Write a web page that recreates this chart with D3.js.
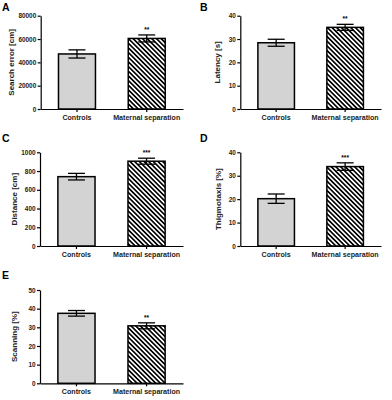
<!DOCTYPE html>
<html>
<head>
<meta charset="utf-8">
<script src="https://cdn.jsdelivr.net/npm/d3@7"></script>
<style>
  body { margin: 0; background: #fff; }
  svg { display: block; font-family: Arial, "Liberation Sans", sans-serif; }
</style>
</head>
<body>
<div id="chart"></div>
<script>
// Groups shown on every panel
const groups = ["Controls", "Maternal separation"];

// Panel values (mean) and error (SEM) per group
const searchError = [47200, 60500];
const searchErrorSem = [3500, 3000];
const latency = [28.4, 35.0];
const latencySem = [1.5, 1.3];
const distance = [740, 905];
const distanceSem = [35, 32];
const thigmotaxis = [20.2, 33.9];
const thigmotaxisSem = [2.0, 1.6];
const scanning = [37.5, 30.8];
const scanningSem = [1.5, 1.6];

// Significance marks (on Maternal separation bar)
const stars = ["**", "**", "***", "***", "**"];

// Axis ticks
const searchErrorTicks = [0, 20000, 40000, 60000, 80000];
const latencyTicks = [0, 10, 20, 30, 40];
const distanceTicks = [0, 200, 400, 600, 800, 1000];
const thigmotaxisTicks = [0, 10, 20, 30, 40];
const scanningTicks = [0, 10, 20, 30, 40, 50];

const width = 392, height = 400;

const svg = d3.select('#chart')
    .append('svg')
    .attr('width', width)
    .attr('height', height);

// Hatch pattern for the maternal separation bars
svg.append('defs').append('pattern')
    .attr('id', 'hatch')
    .attr('patternUnits', 'userSpaceOnUse')
    .attr('width', 3.3)
    .attr('height', 3.3)
    .attr('patternTransform', 'rotate(-45)')
    .call(p => {
        p.append('rect').attr('width', 3.3).attr('height', 3.3).attr('fill', '#fff');
        p.append('rect').attr('width', 1.65).attr('height', 3.3).attr('fill', '#000');
    });

const panels = [
    { letter: 'A', title: 'Search error [cm]', values: searchError, sem: searchErrorSem, ticks: searchErrorTicks,
      left: 40.7, right: 183, top: 15.7, bottom: 109, labelX: 11, lx: 2, ly: 11 },
    { letter: 'B', title: 'Latency [s]', values: latency, sem: latencySem, ticks: latencyTicks,
      left: 240.3, right: 381, top: 15.7, bottom: 109, labelX: 217, lx: 200, ly: 11 },
    { letter: 'C', title: 'Distance [cm]', values: distance, sem: distanceSem, ticks: distanceTicks,
      left: 40, right: 183, top: 152.3, bottom: 246, labelX: 14, lx: 2, ly: 142 },
    { letter: 'D', title: 'Thigmotaxis [%]', values: thigmotaxis, sem: thigmotaxisSem, ticks: thigmotaxisTicks,
      left: 240.3, right: 381, top: 152.3, bottom: 246, labelX: 218, lx: 200, ly: 142 },
    { letter: 'E', title: 'Scanning [%]', values: scanning, sem: scanningSem, ticks: scanningTicks,
      left: 40, right: 183, top: 290, bottom: 383.3, labelX: 14, lx: 2, ly: 279 }
];

panels.forEach((p, i) => {
    const g = svg.append('g');

    const x = d3.scaleBand()
        .domain(groups)
        .range([p.left, p.right])
        .paddingInner(0.47)
        .paddingOuter(0.255);

    const y = d3.scaleLinear()
        .domain([0, d3.max(p.ticks)])
        .range([p.bottom, p.top]);

    // Bars
    g.selectAll('rect.bar')
        .data(groups)
        .join('rect')
        .attr('class', 'bar')
        .attr('x', d => x(d))
        .attr('y', (d, j) => y(p.values[j]))
        .attr('width', x.bandwidth())
        .attr('height', (d, j) => y(0) - y(p.values[j]))
        .attr('fill', (d, j) => j === 0 ? '#d3d3d3' : 'url(#hatch)')
        .attr('stroke', '#000')
        .attr('stroke-width', 1.5);

    // Error bars
    const cap = 8.5;
    groups.forEach((grp, j) => {
        const cx = x(grp) + x.bandwidth() / 2;
        const hi = y(p.values[j] + p.sem[j]);
        const lo = y(p.values[j] - p.sem[j]);
        g.append('line').attr('x1', cx).attr('x2', cx).attr('y1', hi).attr('y2', lo)
            .attr('stroke', '#000').attr('stroke-width', 1.3);
        [hi, lo].forEach(v => {
            g.append('line').attr('x1', cx - cap).attr('x2', cx + cap).attr('y1', v).attr('y2', v)
                .attr('stroke', '#000').attr('stroke-width', 1.3);
        });
    });

    // Significance stars
    const m = groups[1];
    g.append('text')
        .attr('x', x(m) + x.bandwidth() / 2)
        .attr('y', y(p.values[1] + p.sem[1]) - 3)
        .attr('text-anchor', 'middle')
        .attr('font-size', 6.5)
        .attr('font-weight', 'bold')
        .text(stars[i]);

    // Y axis
    const yAxis = g.append('g')
        .attr('transform', `translate(${p.left},0)`)
        .call(d3.axisLeft(y).tickValues(p.ticks).tickFormat(d3.format('d'))
            .tickSize(3).tickPadding(1.5).tickSizeOuter(0));
    yAxis.select('.domain').attr('stroke-width', 1.2);
    yAxis.selectAll('.tick line').attr('stroke-width', 1.2);
    yAxis.selectAll('text').attr('font-size', 6.4).attr('font-weight', 'bold').attr('fill', '#222');

    // X axis
    const xAxis = g.append('g')
        .attr('transform', `translate(0,${p.bottom})`)
        .call(d3.axisBottom(x).tickSize(3).tickPadding(2.5).tickSizeOuter(0));
    xAxis.select('.domain').attr('stroke-width', 1.2);
    xAxis.selectAll('.tick line').attr('stroke-width', 1.2);
    xAxis.selectAll('text').attr('font-size', 7.1).attr('font-weight', 'bold').attr('fill', '#222');

    // Axis title
    g.append('text')
        .attr('transform', `translate(${p.labelX + 3},${(p.top + p.bottom) / 2}) rotate(-90)`)
        .attr('text-anchor', 'middle')
        .attr('font-size', 8)
        .attr('font-weight', 'bold')
        .attr('fill', '#222')
        .text(p.title);

    // Panel letter
    g.append('text')
        .attr('x', p.lx)
        .attr('y', p.ly)
        .attr('font-size', 10.5)
        .attr('font-weight', 'bold')
        .text(p.letter);
});
</script>
</body>
</html>
